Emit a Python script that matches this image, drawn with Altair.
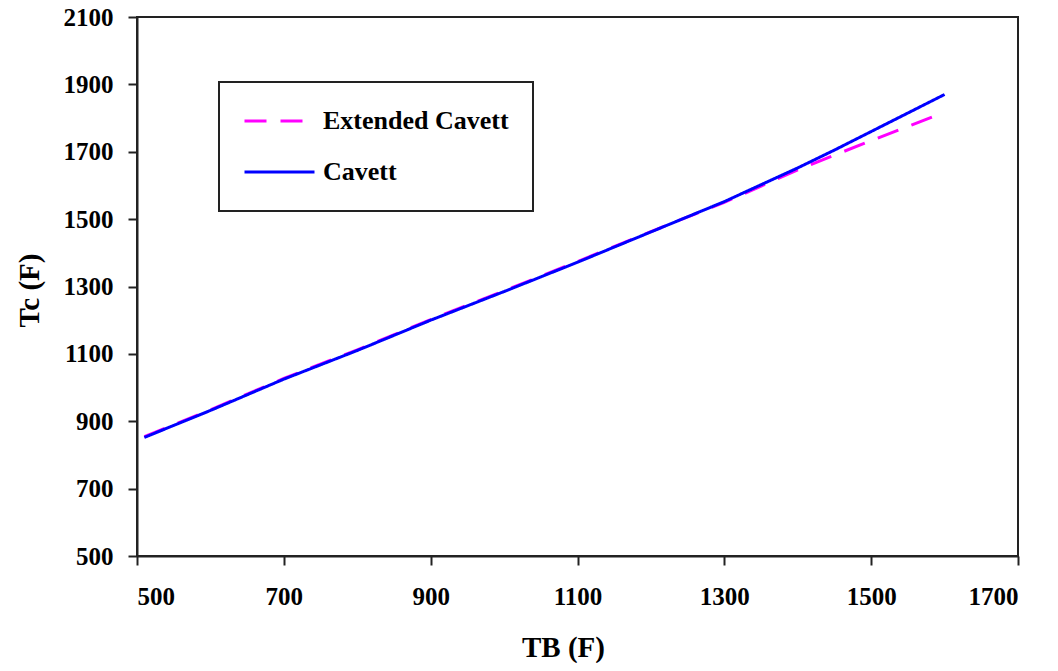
import altair as alt
import pandas as pd

# Data
tb = [510, 600, 700, 800, 900, 1000, 1100, 1200, 1300, 1400, 1450, 1500, 1550, 1600]
cavett = [852, 932, 1025, 1110, 1200, 1285, 1372, 1462, 1552, 1652, 1705, 1760, 1815, 1870]
extended_cavett = [854, 934, 1027, 1112, 1202, 1287, 1374, 1463, 1550, 1646, 1690, 1733, 1775, 1817]

series_names = ["Extended Cavett", "Cavett"]
series_colors = ["#FF00FF", "#0000FF"]
series_dashes = [[22, 14], [1, 0]]

x_ticks = [500, 700, 900, 1100, 1300, 1500, 1700]
y_ticks = [500, 700, 900, 1100, 1300, 1500, 1700, 1900, 2100]

rows = []
for t, v in zip(tb, extended_cavett):
    rows.append({"TB": t, "Tc": v, "series": "Extended Cavett"})
for t, v in zip(tb, cavett):
    rows.append({"TB": t, "Tc": v, "series": "Cavett"})
df = pd.DataFrame(rows)

FONT = "Liberation Serif"

x_enc = alt.X(
    "TB:Q",
    scale=alt.Scale(domain=[500, 1700], nice=False, zero=False),
    axis=alt.Axis(
        title="TB (F)", values=x_ticks, format="d", grid=False,
        titleY=100, titleBaseline="alphabetic", titleX=426,
        labelPadding=19,
    ),
)
y_enc = alt.Y(
    "Tc:Q",
    scale=alt.Scale(domain=[500, 2100], nice=False, zero=False),
    axis=alt.Axis(
        title="Tc (F)", values=y_ticks, format="d", grid=False,
        titleX=-108, titleY=273, titleBaseline="middle", titleAngle=-90,
        labelPadding=15,
    ),
)
color_enc = alt.Color(
    "series:N",
    scale=alt.Scale(domain=series_names, range=series_colors),
    legend=alt.Legend(title=None),
)
dash_enc = alt.StrokeDash(
    "series:N",
    scale=alt.Scale(domain=series_names, range=series_dashes),
    legend=alt.Legend(title=None),
)

base = alt.Chart(df)
ext_line = base.transform_filter(alt.datum.series == "Extended Cavett").mark_line(strokeWidth=3).encode(
    x=x_enc, y=y_enc, color=color_enc, strokeDash=dash_enc
)
cav_line = base.transform_filter(alt.datum.series == "Cavett").mark_line(strokeWidth=3).encode(
    x=x_enc, y=y_enc, color=color_enc, strokeDash=dash_enc
)

chart = (
    alt.layer(ext_line, cav_line)
    .properties(
        width=881, height=539,
        autosize=alt.AutoSizeParams(type="none"),
        padding={"left": 129, "top": 9, "right": 32, "bottom": 107},
    )
    .configure_view(stroke="#222222", strokeWidth=2)
    .configure_axis(
        labelFont=FONT, titleFont=FONT, labelFontSize=25, titleFontSize=29,
        labelColor="black", titleColor="black", labelFontWeight="bold",
        titleFontWeight="bold", domainColor="#222222", domainWidth=2,
        tickColor="#222222", tickWidth=2, tickSize=9,
    )
    .configure_legend(
        orient="none", legendX=82, legendY=65, padding=24,
        strokeColor="#222222", strokeWidth=2, fillColor="white",
        labelFont=FONT, labelFontSize=26, labelFontWeight="bold", labelColor="black",
        labelLimit=0,
        symbolType="stroke", symbolStrokeWidth=3, symbolSize=4900,
        clipHeight=30, rowPadding=21,
        labelOffset=7,
    )
)

chart.save("out.html", embed_options={"renderer": "svg", "actions": False})
